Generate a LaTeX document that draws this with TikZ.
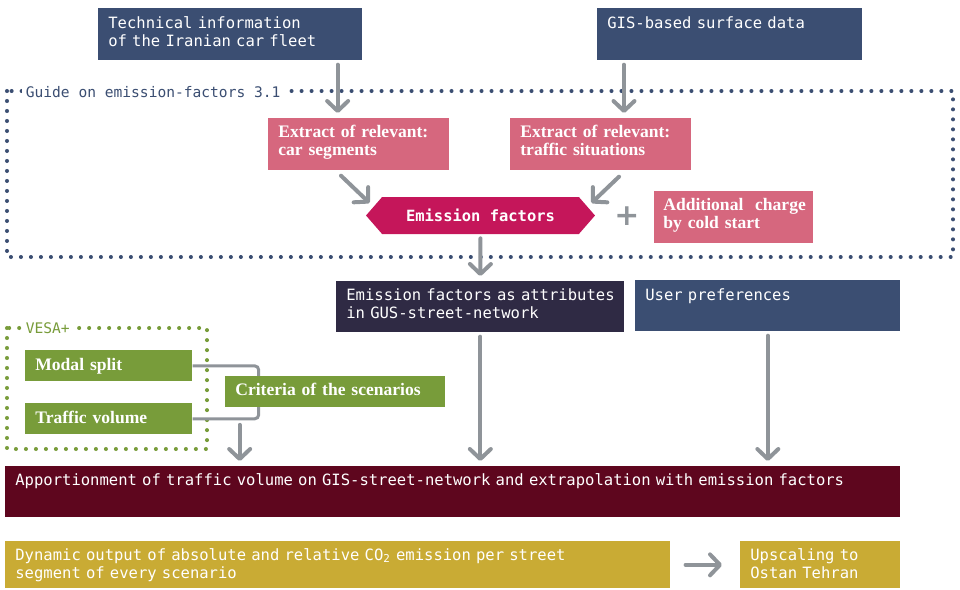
\documentclass[tikz,border=0pt]{standalone}
\usepackage{fontspec}
\setmainfont{Liberation Serif}
\setmonofont{DejaVu Sans Mono}
\newfontfamily\symfont{DejaVu Sans}
\usepackage{tikz}
\usetikzlibrary{positioning, calc, arrows.meta, shapes.symbols}
\definecolor{thNavy}{RGB}{59, 78, 114}
\definecolor{thPink}{RGB}{214, 103, 126}
\definecolor{thMagenta}{RGB}{197, 22, 90}
\definecolor{thInk}{RGB}{47, 42, 68}
\definecolor{thGreen}{RGB}{120, 156, 58}
\definecolor{thWine}{RGB}{94, 6, 30}
\definecolor{thMustard}{RGB}{201, 171, 52}
\definecolor{thGray}{RGB}{143, 148, 153}
\tikzset{
    panel/.style={
        anchor=north west,
        rectangle,
        inner xsep=0.2cm,
        inner ysep=0pt,
        align=left,
        text=white
    },
    mono/.style={
        panel,
        font=\ttfamily\fontsize{8.85}{10.2}\selectfont
    },
    serif/.style={
        panel,
        font=\bfseries\fontsize{10}{10.2}\selectfont
    },
    flow/.style={
        -{Straight Barb[round, length=0.2cm, width=0.42cm]},
        line width=0.08cm,
        line cap=round,
        color=thGray,
        shorten <=0.08cm,
        shorten >=0.1cm
    },
    link/.style={
        line width=0.06cm,
        color=thGray,
        rounded corners=0.08cm
    },
    frame/.style={
        line width=2.3pt,
        line cap=round,
        dash pattern=on 0pt off 5.69pt
    },
    tag/.style={
        font=\ttfamily\fontsize{8.3}{10.2}\selectfont,
        fill=white,
        inner sep=2pt,
        anchor=base west
    }
}

\begin{document}
\begin{tikzpicture}[x=0.02cm, y=-0.02cm]
  \useasboundingbox (0,0) rectangle (960,589);

  % Frames
  \draw[frame, thNavy] (7,91) rectangle (953,257);
  \node[tag, text=thNavy] (guide) at (22,97) {Guide on emission-factors 3.1};
  \draw[frame, thGreen] (7,328) rectangle (207,449);
  \node[tag, text=thGreen] (vesa) at (22,333) {VESA+};

  % Input data
  \node[mono, fill=thNavy, text width=4.88cm, text height=0.4cm, text depth=0.64cm] (tech) at (98,8) {Technical information\\of the Iranian car fleet};
  \node[mono, fill=thNavy, text width=4.9cm, text height=0.4cm, text depth=0.64cm] (gis) at (597,8) {GIS-based surface data};

  % Guide on emission factors
  \node[serif, fill=thPink, text width=3.22cm, text height=0.38cm, text depth=0.66cm] (car) at (268,118) {Extract of relevant:\\car segments};
  \node[serif, fill=thPink, text width=3.22cm, text height=0.38cm, text depth=0.66cm] (sit) at (510,118) {Extract of relevant:\\traffic situations};
  \node[signal, signal to=west and east, signal pointer angle=98, fill=thMagenta, minimum width=4.58cm, minimum height=0.74cm, inner sep=0pt, text=white, font=\ttfamily\bfseries\fontsize{8.8}{10}\selectfont] (emis) at (480.5,215.5) {Emission factors};
  \node[text=thGray, font=\symfont\bfseries\fontsize{17}{17}\selectfont] (plus) at (627,216) {+};
  \node[serif, fill=thPink, text width=2.82cm, inner xsep=0.18cm, text height=0.38cm, text depth=0.66cm] (cold) at (654,191) {\mbox{Additional\ \ charge}\\by cold start};

  % Network
  \node[mono, fill=thInk, text width=5.36cm, text height=0.38cm, text depth=0.64cm] (attr) at (336,281) {\mbox{Emission factors as attributes}\\in GUS-street-network};
  \node[mono, fill=thNavy, text width=4.9cm, text height=0.4cm, text depth=0.62cm] (user) at (635,280) {User preferences};

  % VESA+
  \node[serif, fill=thGreen, text width=2.94cm, text height=0.4cm, text depth=0.22cm] (modal) at (25,350) {Modal split};
  \node[serif, fill=thGreen, text width=2.94cm, text height=0.4cm, text depth=0.22cm] (volume) at (25,403) {Traffic volume};
  \draw[link] (modal.east) -- ++(66,0) |- (volume.east);
  \node[serif, fill=thGreen, text width=4cm, text height=0.38cm, text depth=0.24cm] (crit) at (225,376) {Criteria of the scenarios};
  \coordinate (merge) at ($(volume.east)+(47,6)$);

  % Results
  \node[mono, fill=thWine, text width=17.5cm, text height=0.38cm, text depth=0.64cm] (apport) at (5,466) {Apportionment of traffic volume on GIS-street-network and extrapolation with emission factors};
  \node[mono, fill=thMustard, text width=12.9cm, text height=0.38cm, text depth=0.56cm] (dyn) at (5,541) {Dynamic output of absolute and relative CO\textsubscript{2} emission per street\\segment of every scenario};
  \node[mono, fill=thMustard, text width=2.8cm, text height=0.38cm, text depth=0.56cm] (upsc) at (740,541) {Upscaling to\\Ostan Tehran};

  % Arrows
  \draw[flow] ([xshift=-0.5cm]tech.south east) -- ([xshift=-0.5cm]tech.south east |- car.north);
  \draw[flow] ([xshift=0.54cm]gis.south west) -- ([xshift=0.54cm]gis.south west |- sit.north);
  \draw[flow, shorten <=0pt, shorten >=0pt] ($(car.south west)+(73,5)$) -- ($(emis.west)+(4,-12.5)$);
  \draw[flow, shorten <=0pt, shorten >=0pt] ($(sit.south west)+(109,6)$) -- ($(emis.east)+(-4,-12.5)$);
  \draw[flow] (emis.south) -- (attr.north);
  \draw[flow] (attr.south) -- (apport.north -| attr.south);
  \draw[flow] (user.south) -- (apport.north -| user.south);
  \draw[flow, shorten <=0pt] (merge) -- (apport.north -| merge);
  \draw[flow, shorten <=0.3cm, shorten >=0.36cm] (dyn.east) -- (upsc.west);
\end{tikzpicture}
\end{document}
